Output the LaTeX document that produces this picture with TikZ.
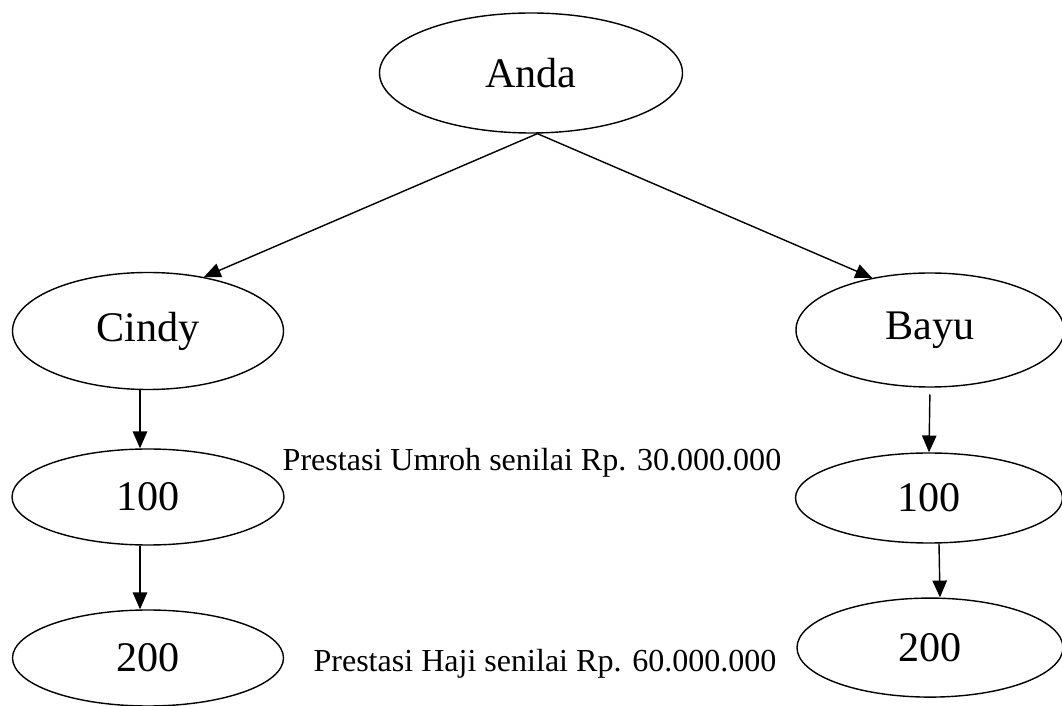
\documentclass[tikz,border=0pt]{standalone}
\usepackage{fontspec}
\setmainfont{Liberation Serif}
\usetikzlibrary{shapes.geometric,arrows.meta}
\begin{document}
\begin{tikzpicture}[>={Triangle[length=0.42cm,width=0.36cm]}, line width=1pt,
  member/.style={draw, ellipse, inner sep=0pt, font=\fontsize{30}{36}\selectfont},
  note/.style={font=\fontsize{22.8}{27}\selectfont}]
\useasboundingbox (0,0) rectangle (26.55,-17.65);
\node[member, minimum width=7.575cm, minimum height=3.0cm] (anda) at (13.275,-1.825) {Anda};
\node[member, minimum width=6.775cm, minimum height=2.925cm] (cindy) at (3.7,-8.275) {Cindy};
\node[member, minimum width=6.8cm, minimum height=2.4cm] (c100) at (3.7,-12.425) {100};
\node[member, minimum width=6.775cm, minimum height=2.4cm] (c200) at (3.7,-16.45) {200};
\node[member, minimum width=6.7cm, minimum height=2.85cm] (bayu) at (23.25,-8.25) {Bayu};
\node[member, minimum width=6.675cm, minimum height=2.25cm] (b100) at (23.225,-12.45) {100};
\node[member, minimum width=6.65cm, minimum height=2.475cm] (b200) at (23.25,-16.19) {200};

\node[note] (umroh) at (13.3,-11.575) {Prestasi Umroh senilai Rp. 30.000.000};
\node[note] (haji) at (13.625,-16.6) {Prestasi Haji senilai Rp. 60.000.000};

\draw[->] (anda.-84) -- (cindy.44);
\draw[->] (anda.-84) -- (bayu.138);
\draw[->] ([xshift=-0.2cm]cindy.south) -- ([xshift=-0.2cm]c100.north);
\draw[->] ([xshift=-0.2cm]c100.south) -- ([xshift=-0.2cm]c200.north);
\draw[->, shorten <=0.17cm] (bayu.south) -- (b100.north);
\draw[->] ([xshift=0.25cm]b100.south) -- ([xshift=0.25cm]b200.north);
\end{tikzpicture}
\end{document}
